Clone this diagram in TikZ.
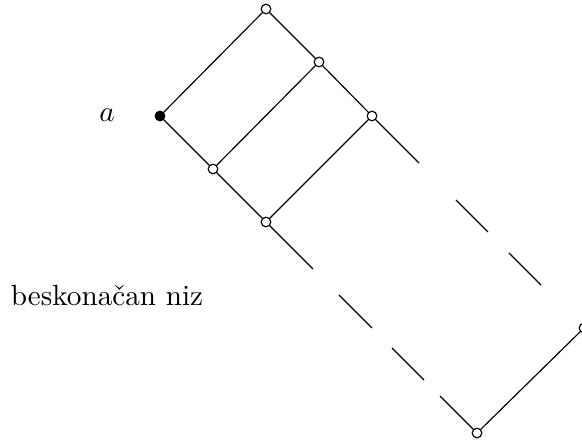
\documentclass[tikz,border=0pt]{standalone}
\usetikzlibrary{calc}
\begin{document}
\begin{tikzpicture}[x=0.3425pt,y=-0.3425pt,
  vert/.style={circle,draw,fill=white,inner sep=0pt,minimum size=3.3pt,line width=0.4pt},
  vertb/.style={vert,fill=black},
  edge/.style={line width=0.4pt}]
\useasboundingbox (0,0) rectangle (582,442);
\node[vert] (t) at (266,9) {};
\node[vertb] (a) at (160,116) {};
\node[vert] (u) at (319,62) {};
\node[vert] (v) at (372,116) {};
\node[vert] (w) at (213,169) {};
\node[vert] (x) at (266,222) {};
\node[vert] (r) at (584,328) {};
\node[vert] (b) at (477,433) {};
\node[anchor=base] (la) at (107,121) {$a$};
\node[anchor=base] (lb) at (107,305) {beskona\v{c}an niz};
\draw[edge] (a) -- (t);
\draw[edge] (t) -- (u);
\draw[edge] (u) -- (v);
\draw[edge] (a) -- (w);
\draw[edge] (w) -- (x);
\draw[edge] (w) -- (u);
\draw[edge] (x) -- (v);
\draw[edge] (b) -- (r);
\draw[edge] (v) -- ($(v)!0.222!(r)$);
\draw[edge] ($(v)!0.396!(r)$) -- ($(v)!0.547!(r)$);
\draw[edge] ($(v)!0.646!(r)$) -- ($(v)!0.797!(r)$);
\draw[edge] (x) -- ($(x)!0.223!(b)$);
\draw[edge] ($(x)!0.346!(b)$) -- ($(x)!0.502!(b)$);
\draw[edge] ($(x)!0.597!(b)$) -- ($(x)!0.749!(b)$);
\draw[edge] ($(x)!0.825!(b)$) -- (b);
\end{tikzpicture}
\end{document}
